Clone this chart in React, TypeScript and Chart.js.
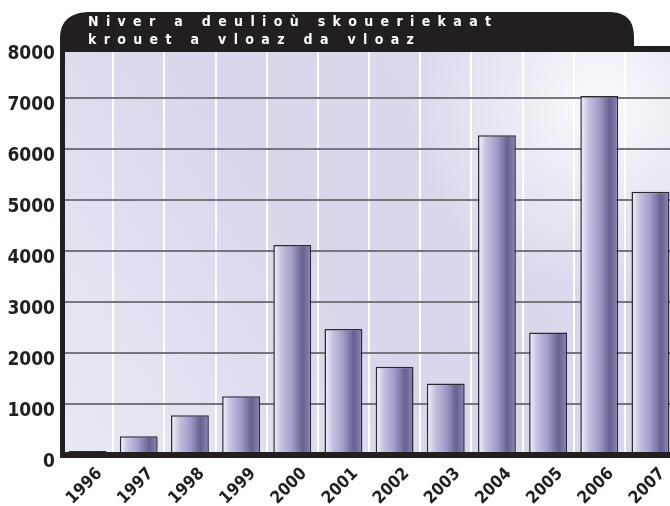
import { useEffect, useRef } from 'react';
import { Chart, registerables } from 'chart.js';

Chart.register(...registerables);

const years = ['1996', '1997', '1998', '1999', '2000', '2001', '2002', '2003', '2004', '2005', '2006', '2007'];
const counts = [80, 370, 780, 1150, 4120, 2470, 1730, 1400, 6270, 2400, 7040, 5160];
const yTicks = [0, 1000, 2000, 3000, 4000, 5000, 6000, 7000, 8000];
const titleLines = ['Niver a deulioù skoueriekaat', 'krouet a vloaz da vloaz'];

const FONT = '"DejaVu Sans Condensed", "DejaVu Sans", sans-serif';
const INK = '#231f20';
const BAR_PCT = 0.74;

const backgroundPlugin = {
  id: 'plotBackground',
  beforeDraw(chart: any) {
    const { ctx, chartArea: a } = chart;
    if (!a) return;
    ctx.save();
    const g = ctx.createLinearGradient(a.left, a.bottom, a.right, a.top);
    g.addColorStop(0, '#e9e9f5');
    g.addColorStop(0.45, '#d8d6ea');
    g.addColorStop(1, '#dcdbec');
    ctx.fillStyle = g;
    ctx.fillRect(a.left, a.top, a.right - a.left, a.bottom - a.top);
    const r = ctx.createRadialGradient(600, 105, 0, 600, 105, 190);
    r.addColorStop(0, 'rgba(255,255,255,0.85)');
    r.addColorStop(1, 'rgba(255,255,255,0)');
    ctx.fillStyle = r;
    ctx.fillRect(a.left, a.top, a.right - a.left, a.bottom - a.top);
    ctx.restore();
  },
};

const framePlugin = {
  id: 'frameAndTitle',
  afterDraw(chart: any) {
    const { ctx, chartArea: a, width } = chart;
    if (!a) return;
    ctx.save();
    ctx.fillStyle = INK;
    // frame
    ctx.fillRect(a.left - 2, a.top - 1, 5, a.bottom - a.top + 4);
    ctx.fillRect(a.left - 2, a.bottom - 3, width, 6);
    ctx.fillRect(a.left - 2, a.top - 1, width, 6);
    // title tab
    const L = a.left - 2;
    const R = 634;
    const T = 12;
    const B = a.top + 2;
    ctx.beginPath();
    ctx.moveTo(L, B);
    ctx.lineTo(L, T + 26);
    ctx.bezierCurveTo(L, T + 8, L + 12, T, L + 30, T);
    ctx.lineTo(R - 26, T);
    ctx.bezierCurveTo(R - 8, T, R, T + 8, R, T + 26);
    ctx.lineTo(R, B);
    ctx.closePath();
    ctx.fill();
    // title text
    ctx.fillStyle = '#ffffff';
    ctx.font = 'bold 14px ' + FONT;
    ctx.textBaseline = 'alphabetic';
    ctx.textAlign = 'left';
    const first = titleLines[0];
    let sum = 0;
    for (const ch of first) sum += ctx.measureText(ch).width;
    const ls = (403 - sum) / (first.length - 1);
    const baselines = [26, 44];
    titleLines.forEach((line, i) => {
      let x = 88;
      for (const ch of line) {
        ctx.fillText(ch, x, baselines[i]);
        x += ctx.measureText(ch).width + ls;
      }
    });
    ctx.restore();
  },
};

export default function App() {
  const ref = useRef<HTMLCanvasElement | null>(null);

  useEffect(() => {
    if (!ref.current) return;
    const chart = new Chart(ref.current, {
      type: 'bar',
      data: {
        labels: years,
        datasets: [
          {
            data: counts,
            backgroundColor: (c: any) => {
              const ch = c.chart;
              const xs = ch.scales && ch.scales.x;
              if (!xs || c.type !== 'data' || !ch.chartArea) return '#9a96c4';
              const cx = xs.getPixelForValue(c.dataIndex);
              const w = (xs.width / years.length) * BAR_PCT;
              const g = ch.ctx.createLinearGradient(cx - w / 2, 0, cx + w / 2, 0);
              g.addColorStop(0, '#f4f4fb');
              g.addColorStop(0.22, '#c4c1e0');
              g.addColorStop(0.5, '#a09cc9');
              g.addColorStop(0.78, '#65628f');
              g.addColorStop(1, '#8c89b6');
              return g;
            },
            borderColor: '#2b2a30',
            borderWidth: 1.5,
            categoryPercentage: 1,
            barPercentage: BAR_PCT,
          },
        ],
      },
      options: {
        animation: false,
        responsive: false,
        devicePixelRatio: 1,
        layout: { padding: { top: 47, right: 2, left: 0, bottom: 0 } },
        plugins: {
          legend: { display: false },
          title: { display: false },
          tooltip: { enabled: false },
        },
        scales: {
          x: {
            grid: { color: 'rgba(255,255,255,0.95)', lineWidth: 2, drawTicks: false, offset: true },
            border: { display: false },
            ticks: {
              autoSkip: false,
              maxRotation: 45,
              minRotation: 45,
              color: INK,
              font: { family: FONT, size: 17, weight: 'bold' },
              padding: 9,
              labelOffset: 12,
            },
            afterFit: (s: any) => {
              s.height = 51;
            },
          },
          y: {
            min: 0,
            max: 8000,
            afterBuildTicks: (s: any) => {
              s.ticks = yTicks.map((v) => ({ value: v }));
            },
            ticks: {
              color: INK,
              font: { family: FONT, size: 19, weight: 'bold' },
              padding: 7,
              labelOffset: 7,
              callback: (v: any) => String(v),
            },
            grid: { color: '#76747c', lineWidth: 2, drawTicks: false },
            border: { display: false },
            afterFit: (s: any) => {
              s.width = 62;
            },
          },
        },
      },
      plugins: [backgroundPlugin, framePlugin],
    });
    return () => chart.destroy();
  }, []);

  return (
    <div style={{ position: 'absolute', left: 0, top: 0, width: 670, height: 506, overflow: 'hidden', background: '#fff' }}>
      <canvas ref={ref} width={678} height={506} style={{ width: 678, height: 506, display: 'block' }} />
    </div>
  );
}
